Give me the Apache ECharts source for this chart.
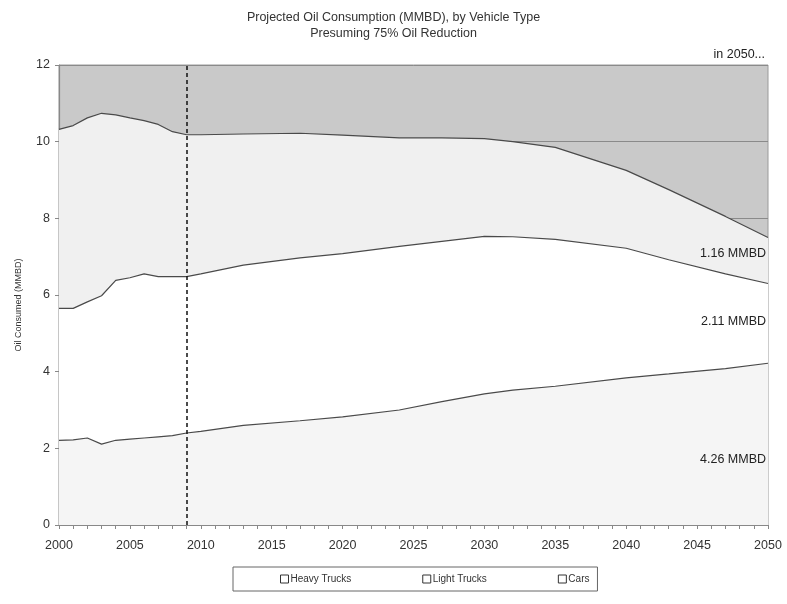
<!DOCTYPE html>
<html>
<head>
<meta charset="utf-8">
<script src="https://cdn.jsdelivr.net/npm/echarts@6/dist/echarts.min.js"></script>
<style>
html,body{margin:0;padding:0;background:#fff;}
#chart{width:787px;height:604px;}
</style>
</head>
<body>
<div id="chart"></div>
<script>
var years = [2000, 2001, 2002, 2003, 2004, 2005, 2006, 2007, 2008, 2009, 2010, 2013, 2017, 2020, 2024, 2027, 2030, 2032, 2035, 2040, 2043, 2047, 2050];
// Oil consumption by vehicle type (MMBD)
var cars        = [2.21, 2.22, 2.27, 2.11, 2.21, 2.24, 2.27, 2.30, 2.33, 2.40, 2.44, 2.60, 2.72, 2.82, 3.00, 3.22, 3.42, 3.52, 3.62, 3.84, 3.94, 4.08, 4.22];
var lightTrucks = [3.44, 3.43, 3.55, 3.87, 4.17, 4.21, 4.28, 4.18, 4.15, 4.08, 4.11, 4.18, 4.25, 4.26, 4.27, 4.18, 4.11, 4.00, 3.83, 3.38, 2.98, 2.47, 2.08];
var heavyTrucks = [4.67, 4.77, 4.80, 4.76, 4.32, 4.17, 4.00, 3.97, 3.78, 3.70, 3.63, 3.42, 3.25, 3.09, 2.83, 2.70, 2.55, 2.48, 2.40, 2.03, 1.83, 1.50, 1.20];
var seriesNames = ['Heavy Trucks', 'Light Trucks', 'Cars'];
var markerYear = 2009;
var endLabels = ['1.16 MMBD', '2.11 MMBD', '4.26 MMBD'];

// cumulative tops (stack order: Cars bottom, Light Trucks, Heavy Trucks)
function cum(arrs) {
  return years.map(function (y, i) {
    var s = 0;
    arrs.forEach(function (a) { s += a[i]; });
    return [y, +s.toFixed(3)];
  });
}
var carsTop = cum([cars]);
var lightTop = cum([cars, lightTrucks]);
var heavyTop = cum([cars, lightTrucks, heavyTrucks]);

var FONT = '"Liberation Sans", Arial, sans-serif';
var chart = echarts.init(document.getElementById('chart'));
function areaSeries(name, data, fill, extra) {
  var s = {
    name: name, type: 'line', data: data, symbol: 'none', smooth: false,
    lineStyle: { color: '#4a4a4a', width: 1.2 },
    itemStyle: { color: '#ffffff', borderColor: '#333' },
    areaStyle: { color: fill, opacity: 1, origin: 'start' },
    z: 2
  };
  if (extra) Object.keys(extra).forEach(function (k) { s[k] = extra[k]; });
  return s;
}
chart.setOption({
  animation: false,
  backgroundColor: '#ffffff',
  textStyle: { fontFamily: FONT },
  title: {
    text: 'Projected Oil Consumption (MMBD), by Vehicle Type',
    subtext: 'Presuming 75% Oil Reduction',
    left: 'center', top: 6, itemGap: 3,
    textStyle: { fontSize: 12.5, fontWeight: 'normal', color: '#333', fontFamily: FONT },
    subtextStyle: { fontSize: 12.5, color: '#333', fontFamily: FONT }
  },
  legend: {
    data: seriesNames.map(function (n) {
      return { name: n, icon: 'rect', itemStyle: { color: '#ffffff', borderColor: '#333', borderWidth: 1 } };
    }),
    left: 233, top: 567,
    itemWidth: 8, itemHeight: 8, itemGap: 71,
    padding: [7, 8, 7, 47],
    backgroundColor: '#ffffff', borderColor: '#666', borderWidth: 1,
    textStyle: { fontSize: 10, color: '#333', fontFamily: FONT, padding: [0, 0, 0, -3] }
  },
  grid: {
    left: 59, right: 19, top: 65, bottom: 79,
    show: true, backgroundColor: '#c9c9c9', borderColor: '#9a9a9a', borderWidth: 1
  },
  xAxis: {
    type: 'value', min: 2000, max: 2050, interval: 5,
    axisLine: { show: true, lineStyle: { color: '#888', width: 1.2 } },
    axisTick: { show: true, length: 4, lineStyle: { color: '#888' } },
    minorTick: { show: true, splitNumber: 5, length: 4, lineStyle: { color: '#888' } },
    splitLine: { show: false },
    axisLabel: { fontSize: 12.5, color: '#333', margin: 14, fontFamily: FONT, formatter: function (v) { return String(v); } }
  },
  yAxis: {
    type: 'value', min: 0, max: 12, interval: 2,
    name: 'Oil Consumed (MMBD)', nameLocation: 'middle', nameGap: 36, nameRotate: 90,
    nameTextStyle: { fontSize: 9, color: '#333', fontFamily: FONT, padding: [0, 0, 0, -20] },
    axisLine: { show: true, lineStyle: { color: '#888', width: 1.2 } },
    axisTick: { show: true, length: 4, lineStyle: { color: '#888' } },
    splitLine: { show: true, lineStyle: { color: '#8a8a8a', width: 1 } },
    axisLabel: { fontSize: 12.5, color: '#333', margin: 9, fontFamily: FONT }
  },
  series: [
    areaSeries(seriesNames[0], heavyTop, '#f0f0f0', {
      markLine: {
        silent: true, symbol: 'none', label: { show: false },
        lineStyle: { color: '#111', type: [4, 3], width: 1.5 },
        data: [{ xAxis: markerYear }]
      }
    }),
    areaSeries(seriesNames[1], lightTop, '#ffffff'),
    areaSeries(seriesNames[2], carsTop, '#f5f5f5')
  ],
  graphic: [
    { type: 'text', right: 22, top: 48, style: { text: 'in 2050...', font: '12.5px ' + FONT, fill: '#222' } },
    { type: 'text', right: 21, top: 247, z: 10, style: { text: endLabels[0], font: '12.5px ' + FONT, fill: '#222' } },
    { type: 'text', right: 21, top: 315, z: 10, style: { text: endLabels[1], font: '12.5px ' + FONT, fill: '#222' } },
    { type: 'text', right: 21, top: 453, z: 10, style: { text: endLabels[2], font: '12.5px ' + FONT, fill: '#222' } }
  ]
});
</script>
</body>
</html>
